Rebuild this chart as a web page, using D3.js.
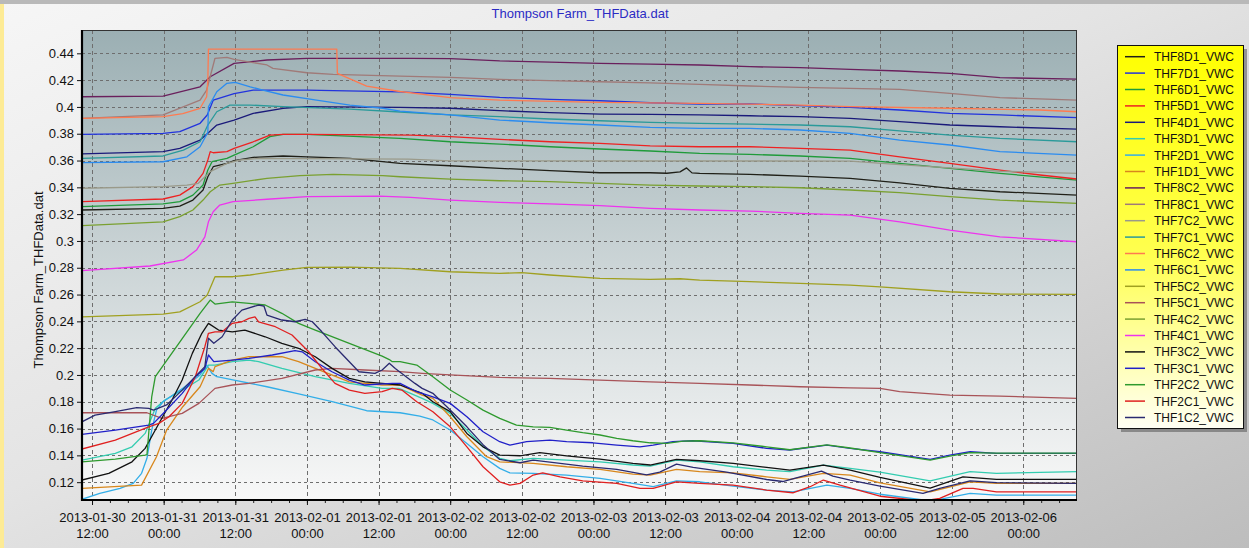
<!DOCTYPE html>
<html><head><meta charset="utf-8">
<script src="https://cdn.jsdelivr.net/npm/d3@7"></script>
<style>html,body{margin:0;padding:0;overflow:hidden;background:#e6e6e6}svg{display:block}</style>
</head><body>
<script>
// ---------- DATA (hours after 2013-01-30 12:00, VWC) ----------
const seriesNames = ["THF8D1_VWC","THF7D1_VWC","THF6D1_VWC","THF5D1_VWC","THF4D1_VWC","THF3D1_VWC","THF2D1_VWC","THF1D1_VWC",
  "THF8C2_VWC","THF8C1_VWC","THF7C2_VWC","THF7C1_VWC","THF6C2_VWC","THF6C1_VWC","THF5C2_VWC","THF5C1_VWC",
  "THF4C2_VWC","THF4C1_VWC","THF3C2_VWC","THF3C1_VWC","THF2C2_VWC","THF2C1_VWC","THF1C2_VWC"];
const seriesColors = ["#202018","#2233dd","#1f9b3a","#ee2222","#1a1a7a","#33ccb0","#33aee8","#d8871c",
  "#6a1f5c","#a07a78","#9a9a8a","#2a9a9a","#ff7a50","#2b8cf0","#a0a020","#a85358",
  "#7aa030","#ee33ee","#111111","#2020c8","#2e9a2e","#e02020","#2a2a70"];

const THF8D1 = [[-1.7,.3231],[11.9,.3243],[14.7,.326],[16.9,.3305],[18.6,.338],[19.4,.3479],[20.3,.3554],[22.6,.3579],[23.8,.3599],[27,.3624],[32,.3634],[36,.3628],[43.2,.3616],[51.6,.3579],[60,.3561],[68.3,.3542],[76.7,.3524],[85.1,.3509],[93.5,.3509],[96.3,.3505],[98.5,.3515],[99.6,.3545],[100.5,.3508],[101.8,.3504],[110.2,.3497],[118.6,.3484],[127,.3467],[135.3,.3434],[143.7,.3393],[152.1,.3367],[165,.3342]];
const THF7D1 = [[-1.7,.3795],[11.9,.3803],[14.7,.3815],[18.1,.3878],[19.3,.394],[20.3,.405],[23.8,.41],[27,.4126],[36,.4126],[51.6,.4113],[60,.4094],[68.3,.4071],[76.7,.4057],[85.1,.4046],[93.5,.4031],[101.8,.4022],[110.2,.4022],[118.6,.4009],[127,.3997],[135.3,.3977],[143.7,.3952],[152.1,.394],[165,.392]];
const THF6D1 = [[-1.7,.3256],[11.9,.3276],[14.7,.3293],[16.9,.3342],[18.6,.3417],[19.4,.3529],[20.1,.3591],[22.6,.3616],[23.8,.3641],[27,.3703],[29.8,.3778],[32,.3795],[36,.3795],[51.6,.3766],[60,.374],[68.3,.3723],[76.7,.3703],[85.1,.3686],[93.5,.3671],[101.8,.3654],[110.2,.3646],[118.6,.3634],[127,.3616],[135.3,.3579],[143.7,.3542],[152.1,.3504],[165,.3454]];
const THF5D1 = [[-1.7,.3293],[11.9,.3313],[14.7,.3342],[16.9,.3405],[18.6,.3504],[19.4,.3604],[19.8,.3666],[20.3,.3658],[22.6,.3666],[23.8,.3691],[27,.374],[29.8,.379],[32,.3795],[36,.3795],[53.4,.379],[60,.3778],[68.3,.3758],[76.7,.374],[85.1,.3728],[93.5,.371],[101.8,.3703],[110.2,.3703],[118.6,.3691],[127,.3678],[135.3,.3628],[143.7,.3579],[152.1,.3529],[158.8,.3492],[165,.3462]];
const THF4D1 = [[-1.7,.3649],[11.9,.3666],[14.7,.3691],[18.1,.3753],[19.4,.3803],[20.9,.3865],[23.8,.3902],[27,.3952],[32,.399],[36,.4002],[51.6,.3997],[60,.399],[68.3,.3972],[76.7,.3957],[85.1,.3947],[93.5,.3945],[101.8,.394],[110.2,.3934],[118.6,.3927],[127,.3915],[135.3,.389],[143.7,.3865],[152.1,.3852],[165,.3835]];
const THF3D1 = [[-1.7,.1365],[3.9,.1415],[6.7,.1464],[8.9,.1564],[10.6,.1751],[12.2,.1813],[15.1,.1887],[17.9,.1962],[19.5,.2074],[20.6,.2074],[23.5,.2099],[26.3,.2111],[27.9,.2099],[31.8,.2049],[37.4,.1987],[43.1,.1937],[48.6,.19],[51.4,.19],[55.3,.1825],[57.1,.1788],[60,.1713],[62.8,.1589],[65.5,.1464],[68.3,.1378],[70,.136],[73.9,.1378],[79.5,.1365],[85.1,.1352],[90.6,.1328],[93.5,.132],[97.9,.1365],[101.8,.1352],[107.4,.1315],[113,.129],[116.9,.1278],[122.5,.1328],[127,.1303],[132,.1275],[140.4,.121],[147.1,.1278],[151.5,.1266],[165,.1278]];
const THF2D1 = [[-1.7,.1072],[1.3,.1116],[4.7,.1154],[6.9,.1191],[8.3,.1266],[9.2,.1378],[10,.1589],[10.8,.1738],[11.9,.18],[15.2,.19],[18.1,.2],[19.2,.2074],[20.1,.2012],[20.9,.1987],[23.8,.1962],[29.3,.1912],[34.8,.1857],[40.4,.18],[46,.1733],[51.6,.1718],[54.9,.1693],[57.1,.1664],[60,.1589],[62.8,.1489],[65.5,.139],[68.3,.1303],[70,.127],[73.9,.1266],[79.5,.1253],[85.1,.1228],[90.6,.1191],[94,.1166],[97.9,.121],[101.8,.1203],[107.4,.1171],[113,.1141],[117.4,.1128],[123.1,.1178],[127,.1154],[132,.111],[139.2,.1067],[142,.1072],[147.1,.1116],[151.5,.1104],[165,.1104]];
const THF1D1 = [[-1.7,.1154],[8.3,.1178],[10.8,.139],[12.5,.1589],[15.2,.1763],[18.1,.1912],[19.5,.2049],[20.3,.2025],[20.6,.2062],[23.5,.2111],[26.3,.2136],[31.8,.2136],[34.6,.2099],[37.4,.2049],[43.1,.1949],[48.6,.1925],[51.6,.1925],[55.3,.185],[57.1,.1825],[60,.1688],[62.8,.1539],[66.1,.139],[68.3,.1352],[73.9,.134],[79.5,.1315],[85.1,.1296],[90.6,.126],[93.5,.1253],[97.9,.1296],[101.8,.1278],[107.4,.127],[113,.124],[116.9,.1221],[122.5,.1266],[127,.1253],[132,.1195],[140.4,.1128],[147.1,.1203],[151.5,.1191],[165,.1191]];
const THF8C2 = [[-1.7,.4076],[11.9,.408],[18.1,.415],[19.8,.4225],[23.8,.4325],[29.3,.435],[36,.4363],[53.4,.4363],[60,.436],[68.3,.4343],[76.7,.4335],[85.1,.4325],[93.5,.432],[101.8,.4313],[110.2,.43],[118.6,.4293],[127,.428],[135.3,.4268],[143.7,.4251],[152.1,.4218],[165,.4208]];
const THF8C1 = [[-1.7,.3915],[11.9,.394],[18.1,.405],[19.2,.4126],[20.6,.4363],[22.6,.437],[23.8,.4355],[29.3,.4313],[30.3,.4288],[36,.4255],[40.4,.4243],[51.6,.423],[60,.4221],[68.3,.4206],[76.7,.4196],[85.1,.4188],[93.5,.418],[101.8,.4168],[110.2,.4156],[118.6,.4146],[127,.4139],[135.3,.4131],[143.7,.4101],[152.1,.4069],[165,.4051]];
const THF7C2 = [[-1.7,.3393],[11.9,.3405],[15.9,.3417],[17.8,.343],[19.8,.3517],[22.6,.3579],[24.8,.3604],[28,.3616],[53,.361],[60,.3598],[127,.3596],[135.3,.357],[143.7,.3545],[152.1,.352],[165,.3504]];
const THF7C1 = [[-1.7,.3616],[11.9,.3634],[15.3,.3678],[18.1,.374],[19.4,.3865],[20.9,.3964],[23.1,.4014],[26.5,.4014],[32,.4002],[43.2,.3984],[51.6,.3962],[60,.394],[68.3,.3927],[76.7,.391],[85.1,.3897],[93.5,.3885],[101.8,.3878],[110.2,.3872],[118.6,.3865],[127,.3852],[135.3,.3822],[143.7,.379],[152.1,.3765],[165,.374]];
const THF6C2 = [[-1.7,.3915],[11.9,.3927],[15.2,.395],[18.1,.399],[19.2,.4076],[19.4,.42],[19.5,.4432],[41,.4432],[41.1,.425],[46,.4155],[51.6,.4115],[60,.4069],[68.3,.4051],[85.1,.4034],[101.8,.4027],[118.6,.4014],[127,.4002],[143.7,.399],[158.8,.3977],[165,.3964]];
const THF6C1 = [[-1.7,.3584],[11.9,.3591],[15.9,.3628],[18.1,.3703],[19.3,.3803],[19.4,.381],[19.5,.400],[20.9,.4113],[22.6,.4176],[24,.4183],[26.5,.415],[28.6,.4126],[32,.4089],[37.6,.4051],[43.2,.4014],[48.7,.399],[51.6,.3969],[60,.394],[68.3,.3902],[76.7,.3882],[85.1,.3865],[93.5,.3848],[101.8,.384],[110.2,.384],[118.6,.3828],[127,.3803],[135.3,.3753],[143.7,.3716],[152.1,.3666],[165,.3641]];
const THF5C2 = [[-1.7,.2434],[11.9,.2454],[14.7,.2471],[18.1,.2546],[19.3,.2596],[20.6,.2733],[23.6,.2733],[26.5,.2746],[32,.2783],[36,.2803],[43.2,.2805],[51.6,.2796],[60,.277],[68.3,.2758],[72,.2764],[76.7,.2746],[85.1,.2721],[93.5,.2713],[98.5,.2718],[101.8,.2708],[110.2,.2696],[118.6,.2683],[127,.2671],[132,.2658],[143.7,.2621],[152.1,.2604],[165,.2601]];
const THF5C1 = [[-1.7,.1718],[9.2,.1718],[11.7,.1676],[15.1,.1713],[17.9,.1788],[20.6,.19],[23.5,.1925],[26.3,.1937],[31.8,.1975],[37.4,.2037],[40.2,.2049],[45.7,.2037],[51.6,.2025],[55.3,.2012],[60,.2],[68.3,.1982],[76.7,.1975],[85.1,.1962],[93.5,.1949],[101.8,.1937],[110.2,.1925],[118.6,.1912],[127,.1904],[132,.19],[135.3,.1875],[143.7,.185],[152.1,.1842],[165,.1825]];
const THF4C2 = [[-1.7,.3114],[11.9,.3143],[14.7,.3181],[16.9,.3231],[18.6,.3305],[19.8,.3367],[21.4,.3417],[23.6,.343],[29.3,.3467],[34.8,.3487],[40.4,.3497],[48.7,.3487],[51.6,.3479],[60,.3462],[68.3,.3449],[76.7,.3442],[85.1,.343],[93.5,.3417],[101.8,.341],[110.2,.3405],[118.6,.3397],[127,.338],[135.3,.336],[143.7,.333],[152.1,.3305],[165,.3281]];
const THF4C1 = [[-1.7,.2778],[9.7,.2813],[15.3,.2858],[17.5,.2932],[18.9,.3031],[19.5,.3143],[20.3,.3218],[21.4,.3268],[23.6,.3293],[29.3,.3311],[36,.333],[48.2,.3335],[53.4,.3325],[60,.3305],[68.3,.3288],[76.7,.3276],[85.1,.3263],[93.5,.3243],[101.8,.3231],[110.2,.3223],[118.6,.3206],[127,.3193],[135.3,.3143],[143.7,.3081],[152.1,.3031],[165,.2994]];
const THF3C2 = [[-1.7,.1216],[2.8,.1266],[6.7,.1352],[8.9,.1452],[10.6,.1589],[13.4,.1813],[15.1,.1962],[16.8,.2161],[18.4,.2311],[19.5,.2385],[21.2,.2335],[23.5,.2322],[25.6,.2335],[29,.2285],[31.8,.2236],[34.6,.2199],[37.4,.2136],[40.2,.2049],[43.1,.1975],[45.7,.1949],[48.6,.1937],[51.6,.1925],[55.3,.1863],[57.1,.18],[60,.1726],[62.8,.1564],[65.5,.1464],[68.3,.1402],[71.7,.1397],[75,.142],[79.5,.1397],[85.1,.1372],[90.6,.134],[93.5,.1328],[97.9,.137],[101.8,.136],[107.4,.134],[113,.131],[116.9,.129],[122.5,.1328],[127,.129],[132,.1235],[140.4,.1155],[145.9,.124],[151.5,.1221],[165,.1221]];
const THF3C1 = [[-1.7,.1556],[3.9,.1589],[9.5,.1626],[10.3,.1639],[12.2,.1726],[15.1,.1863],[17.3,.1987],[18.9,.2049],[19.5,.2149],[20.4,.2099],[23.5,.2111],[26.3,.2124],[30.2,.2149],[34,.2181],[35.2,.2173],[37.4,.2099],[40.2,.2024],[43.1,.1962],[45.7,.1925],[50.3,.1937],[51.6,.1937],[54.4,.1875],[57.1,.1837],[60,.1788],[62.8,.1688],[65.5,.1576],[68.3,.1502],[70,.1477],[72.8,.1502],[76.7,.1514],[79.5,.1502],[83.9,.1494],[87.9,.1477],[91.8,.1464],[94,.1477],[97.3,.1502],[100.7,.1509],[107.4,.149],[113,.1452],[116.9,.144],[123.1,.1477],[127,.1452],[132,.1427],[140.4,.137],[143.7,.1402],[147.1,.1427],[151.5,.1415],[165,.1415]];
const THF2C2 = [[-1.7,.1352],[3.9,.1372],[8.9,.1402],[9.2,.1405],[10,.1837],[10.6,.1987],[18.1,.246],[19.8,.2559],[20.6,.2529],[23.5,.2546],[26.3,.2534],[29,.2522],[31.8,.246],[34.6,.2385],[37.4,.2335],[43.1,.2236],[48.6,.2141],[49.8,.2115],[50.3,.2099],[51.6,.2099],[54.4,.2074],[57.1,.1987],[60,.1888],[62.8,.1813],[65.5,.1738],[68.3,.1676],[71.1,.1626],[73.9,.1613],[76.7,.1609],[79.5,.1589],[82.2,.1569],[85.1,.1552],[87.9,.1527],[90.6,.1509],[93.5,.1494],[96.3,.149],[99,.1507],[101.8,.1509],[107.4,.1494],[113,.1464],[116.9,.1442],[123.1,.1479],[127,.1455],[132,.142],[140.4,.1365],[143.7,.1395],[147.1,.142],[151.5,.1417],[165,.1417]];
const THF2C1 = [[-1.7,.1447],[3.9,.1514],[9.5,.1613],[11.2,.1639],[12.9,.1688],[15.1,.1788],[17.3,.1987],[18.9,.2211],[19.5,.2311],[20.6,.2322],[21.8,.2322],[23.5,.2385],[25.1,.2397],[26.3,.2422],[27.3,.2434],[27.9,.2397],[30.7,.236],[33.5,.2298],[36.3,.2173],[38.5,.2049],[40.7,.1937],[43.1,.1887],[45.7,.1863],[48.6,.1875],[50.3,.19],[51.9,.1887],[54.4,.18],[55.3,.1776],[57.1,.1726],[60,.1613],[62.8,.1464],[65.5,.1315],[68.3,.1203],[70,.1178],[71.7,.1191],[73.9,.1253],[75.5,.127],[78.4,.124],[82.2,.121],[87.9,.1191],[91.8,.1154],[94,.1154],[97.9,.1203],[101.8,.1191],[107.4,.1178],[113,.1141],[117.4,.1121],[120.3,.1166],[122.5,.1216],[125.3,.1178],[132,.1095],[139.2,.106],[142,.1079],[145.9,.1154],[147.6,.1154],[151.5,.1128],[165,.1128]];
const THF1C2 = [[-1.7,.165],[0.5,.17],[3.9,.1726],[7.5,.1756],[9.5,.1751],[10.3,.1738],[12.5,.1776],[15.1,.1887],[18.9,.2062],[19.5,.2274],[20.4,.2236],[21.8,.2285],[23.5,.241],[25.1,.2484],[27.9,.2522],[28.8,.2514],[29.3,.2447],[31.8,.241],[34,.2397],[35.7,.2415],[36.9,.2397],[38.5,.2322],[40.7,.2211],[43.1,.2099],[44.7,.2024],[47.4,.2012],[48.6,.2037],[49.8,.2087],[50.8,.2049],[54.1,.1937],[55.3,.19],[57.1,.1863],[60,.1738],[62.8,.1613],[65.5,.148],[68.3,.137],[71.7,.1345],[73.9,.1365],[76.7,.135],[82.2,.132],[87.9,.1295],[92.9,.1255],[95.1,.1275],[97.9,.1335],[100.7,.131],[106.3,.1275],[113,.122],[115.7,.1205],[118.6,.124],[122.2,.1283],[124.1,.1245],[127,.1215],[132,.117],[139.2,.1116],[142,.1154],[147.1,.121],[151.5,.1196],[165,.1191]];

const seriesData = [THF8D1,THF7D1,THF6D1,THF5D1,THF4D1,THF3D1,THF2D1,THF1D1,THF8C2,THF8C1,THF7C2,THF7C1,THF6C2,THF6C1,THF5C2,THF5C1,THF4C2,THF4C1,THF3C2,THF3C1,THF2C2,THF2C1,THF1C2];
const yTickValues = [0.12,0.14,0.16,0.18,0.2,0.22,0.24,0.26,0.28,0.3,0.32,0.34,0.36,0.38,0.4,0.42,0.44];
const xStartHour = -1.68, xEndHour = 165.0;
const yMin = 0.1067, yMax = 0.4574;
const titleText = "Thompson Farm_THFData.dat";
const yLabelText = "Thompson Farm_THFData.dat";

// ---------- CHART ----------
const W = 1249, H = 548;
const T0 = new Date(2013, 0, 30, 12, 0, 0);
const hd = h => new Date(T0.getTime() + h * 3600e3);
const P = {l: 82, r: 1077, t: 30, b: 500};

const svg = d3.select("body").append("svg").attr("width", W).attr("height", H)
  .style("font-family", "'Liberation Sans', Arial, sans-serif");
const defs = svg.append("defs");

const bg = defs.append("linearGradient").attr("id", "bg").attr("x1", 0).attr("y1", 0).attr("x2", 1).attr("y2", 1);
bg.append("stop").attr("offset", 0).attr("stop-color", "#f6f6f6");
bg.append("stop").attr("offset", 0.45).attr("stop-color", "#e4e4e4");
bg.append("stop").attr("offset", 1).attr("stop-color", "#bdbdbd");

const pg = defs.append("linearGradient").attr("id", "pg").attr("x1", 0).attr("y1", 0).attr("x2", 0).attr("y2", 1);
pg.append("stop").attr("offset", 0).attr("stop-color", "#9bafb3");
pg.append("stop").attr("offset", 0.45).attr("stop-color", "#c7d1d3");
pg.append("stop").attr("offset", 1).attr("stop-color", "#f8f8f8");

const lg = defs.append("linearGradient").attr("id", "lg").attr("x1", 0).attr("y1", 0).attr("x2", 0).attr("y2", 1);
lg.append("stop").attr("offset", 0).attr("stop-color", "#ffff00");
lg.append("stop").attr("offset", 0.55).attr("stop-color", "#ffff50");
lg.append("stop").attr("offset", 1).attr("stop-color", "#fffff4");

defs.append("clipPath").attr("id", "clip").append("rect")
  .attr("x", P.l).attr("y", P.t).attr("width", P.r - P.l).attr("height", P.b - P.t);

svg.append("rect").attr("width", W).attr("height", H).attr("fill", "url(#bg)");
svg.append("rect").attr("x", 0).attr("y", 0).attr("width", W).attr("height", 4).attr("fill", "#b9b9b9");
svg.append("rect").attr("x", 0).attr("y", 4).attr("width", 4).attr("height", H - 4).attr("fill", "#fdeb95");

const x = d3.scaleTime().domain([hd(xStartHour), hd(xEndHour)]).range([P.l, P.r]);
const y = d3.scaleLinear().domain([yMin, yMax]).range([P.b, P.t]);

// plot background
svg.append("rect").attr("x", P.l).attr("y", P.t).attr("width", P.r - P.l).attr("height", P.b - P.t)
  .attr("fill", "url(#pg)");

const majorTicks = d3.timeHour.every(12).range(hd(xStartHour), hd(xEndHour));
const minorTicks = d3.timeHour.every(3).range(hd(xStartHour), hd(xEndHour));

// grid
const grid = svg.append("g");
grid.selectAll("line.h").data(yTickValues).join("line")
  .attr("x1", P.l).attr("x2", P.r).attr("y1", d => Math.round(y(d)) + 0.5).attr("y2", d => Math.round(y(d)) + 0.5)
  .attr("stroke", "#6e6e6e").attr("stroke-width", 1).attr("stroke-dasharray", "3,3");
grid.selectAll("line.v").data(majorTicks).join("line")
  .attr("y1", P.t).attr("y2", P.b).attr("x1", d => Math.round(x(d)) + 0.5).attr("x2", d => Math.round(x(d)) + 0.5)
  .attr("stroke", "#6e6e6e").attr("stroke-width", 1).attr("stroke-dasharray", "4,3");

// lines
const line = d3.line().x(d => x(hd(d[0]))).y(d => y(d[1]));
svg.append("g").attr("clip-path", "url(#clip)").selectAll("path").data(seriesData).join("path")
  .attr("d", line).attr("fill", "none").attr("stroke", (d, i) => seriesColors[i])
  .attr("stroke-width", 1.3).attr("stroke-linejoin", "round");

// frame
svg.append("rect").attr("x", P.l + 0.5).attr("y", P.t + 0.5).attr("width", P.r - P.l - 1).attr("height", P.b - P.t - 1)
  .attr("fill", "none").attr("stroke", "#333").attr("stroke-width", 1);

// y axis
const yAxis = svg.append("g").attr("transform", `translate(${P.l},0)`)
  .call(d3.axisLeft(y).tickValues(yTickValues).tickSize(5).tickPadding(3).tickFormat(d => String(+d.toFixed(2))));
yAxis.select(".domain").remove();
yAxis.selectAll("text").attr("font-size", 13).attr("fill", "#111").attr("font-family", "'Liberation Sans', Arial, sans-serif");
yAxis.selectAll("line").attr("stroke", "#111");

// x axis
const fmtD = d3.timeFormat("%Y-%m-%d"), fmtT = d3.timeFormat("%H:%M");
const xMinor = svg.append("g").attr("transform", `translate(0,${P.b})`)
  .call(d3.axisBottom(x).tickValues(minorTicks).tickSize(3).tickFormat(""));
xMinor.select(".domain").remove();
xMinor.selectAll("line").attr("stroke", "#222");
const xAxis = svg.append("g").attr("transform", `translate(0,${P.b})`)
  .call(d3.axisBottom(x).tickValues(majorTicks).tickSize(5).tickFormat(""));
xAxis.select(".domain").remove();
xAxis.selectAll("line").attr("stroke", "#111");
xAxis.selectAll(".tick").append("text").attr("text-anchor", "middle").attr("font-size", 13).attr("fill", "#111")
  .attr("font-family", "'Liberation Sans', Arial, sans-serif")
  .each(function(d) {
    const t = d3.select(this);
    t.append("tspan").attr("x", 0).attr("y", 22).text(fmtD(d));
    t.append("tspan").attr("x", 0).attr("y", 38).text(fmtT(d));
  });

// thick axis lines
svg.append("line").attr("x1", P.l).attr("x2", P.l).attr("y1", P.t).attr("y2", P.b + 1).attr("stroke", "#000").attr("stroke-width", 2.2);
svg.append("line").attr("x1", P.l - 1).attr("x2", P.r).attr("y1", P.b).attr("y2", P.b).attr("stroke", "#000").attr("stroke-width", 2.2);

// title
svg.append("text").attr("x", 580).attr("y", 18).attr("text-anchor", "middle").attr("font-size", 13)
  .attr("fill", "#2b2bc4").text(titleText);
// y label
svg.append("text").attr("transform", "translate(43,280) rotate(-90)").attr("text-anchor", "middle")
  .attr("font-size", 13).attr("fill", "#111").text(yLabelText);

// legend
const L = {x: 1117, y: 45, w: 126, h: 383};
svg.append("rect").attr("x", L.x + 4).attr("y", L.y + 4).attr("width", L.w).attr("height", L.h).attr("fill", "#555").attr("opacity", 0.55);
svg.append("rect").attr("x", L.x + 0.5).attr("y", L.y + 0.5).attr("width", L.w).attr("height", L.h)
  .attr("fill", "url(#lg)").attr("stroke", "#111").attr("stroke-width", 1);
const leg = svg.append("g").selectAll("g").data(seriesNames).join("g")
  .attr("transform", (d, i) => `translate(0,${56.7 + i * 16.4})`);
leg.append("line").attr("x1", 1125).attr("x2", 1145).attr("y1", 0).attr("y2", 0)
  .attr("stroke", (d, i) => seriesColors[i]).attr("stroke-width", 1.5);
leg.append("text").attr("x", 1154).attr("y", 4.5).attr("font-size", 12).attr("fill", "#111").text(d => d);
</script>
</body></html>
